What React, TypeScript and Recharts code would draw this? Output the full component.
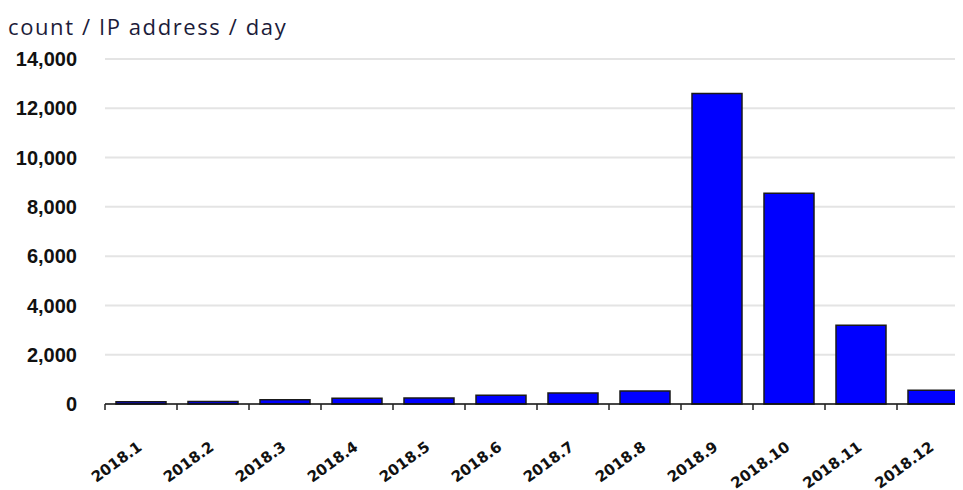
import { BarChart, Bar, CartesianGrid, XAxis, YAxis } from "recharts";

const months = [
  "2018.1", "2018.2", "2018.3", "2018.4", "2018.5", "2018.6",
  "2018.7", "2018.8", "2018.9", "2018.10", "2018.11", "2018.12",
];
const counts = [90, 100, 170, 230, 240, 360, 450, 530, 12600, 8550, 3200, 560];
const yTicks = [0, 2000, 4000, 6000, 8000, 10000, 12000, 14000];

const data = months.map((m, i) => ({ month: m, count: counts[i] }));

const CHART_W = 961;
const Y_W = 97;
const STEP = (CHART_W - Y_W) / months.length;

const MonthTick = (props: any) => {
  const { x, y, payload } = props;
  const bx = x - STEP / 2;
  const tx = x + 2;
  const ty = y + 45;
  return (
    <g>
      <line x1={bx} y1={y} x2={bx} y2={y + 6} stroke="#222" strokeWidth={1.5} />
      <text
        x={tx}
        y={ty}
        textAnchor="end"
        transform={`rotate(-36 ${tx} ${ty})`}
        fontFamily="DejaVu Sans"
        fontWeight="bold"
        fontSize={15}
        fill="#111"
      >
        {payload.value}
      </text>
    </g>
  );
};

const App = () => {
  return (
    <div style={{ position: "relative", width: 955, height: 482, overflow: "hidden" }}>
      <div
        style={{
          position: "absolute",
          left: 0,
          top: 3,
          fontFamily: "Open Sans",
          fontSize: 22,
          letterSpacing: 1.6,
          color: "#1c1c3a",
          whiteSpace: "nowrap",
        }}
      >
        count / IP address / day
      </div>
      <BarChart
        width={CHART_W}
        height={482}
        data={data}
        margin={{ top: 51, right: 0, bottom: 0, left: 0 }}
        barSize={50}
      >
        <CartesianGrid vertical={false} stroke="#e4e4e4" strokeWidth={2} />
        <XAxis
          dataKey="month"
          height={86}
          interval={0}
          tickLine={false}
          tickSize={0}
          tickMargin={0}
          stroke="#111"
          strokeWidth={1.5}
          tick={<MonthTick />}
        />
        <YAxis
          width={Y_W}
          domain={[0, 14000]}
          ticks={yTicks}
          axisLine={false}
          tickLine={false}
          tickSize={0}
          tickMargin={28}
          tickFormatter={(v: number) => v.toLocaleString("en-US")}
          tick={{
            fill: "#111",
            fontFamily: "Liberation Sans",
            fontWeight: "bold",
            fontSize: 20,
          }}
        />
        <Bar
          dataKey="count"
          fill="#0000ff"
          stroke="#1a1a1a"
          strokeWidth={1.5}
          isAnimationActive={false}
        />
      </BarChart>
    </div>
  );
};

export default App;
